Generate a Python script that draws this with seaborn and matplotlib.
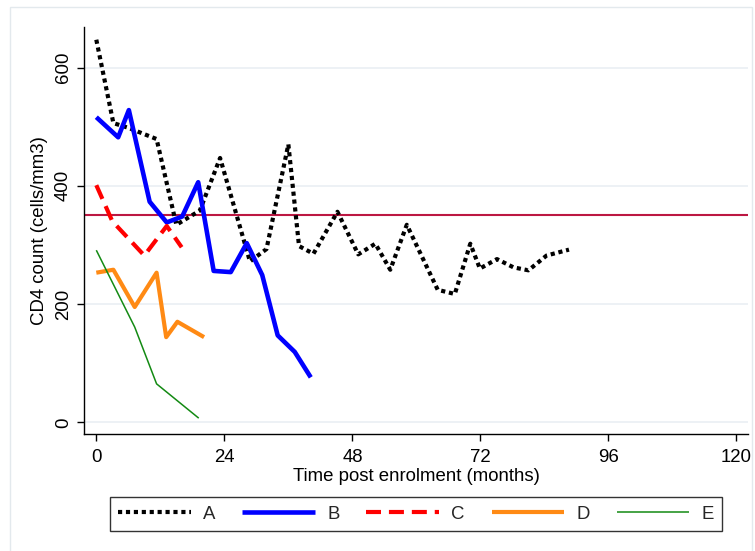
import numpy as np
import pandas as pd
import matplotlib
matplotlib.use("Agg")
import matplotlib.pyplot as plt
from matplotlib.patches import Rectangle
import seaborn as sns

# CD4 trajectories per patient (months since enrolment, cells/mm3)
months_a = [0, 3.2, 6, 11.3, 15, 19.4, 23.2, 28.8, 31.9, 36, 38, 40.7, 45.2, 49.1,
            52.3, 55.1, 58.2, 64, 67.2, 70.1, 71.9, 75.1, 78.2, 81, 84.4, 88.6]
cd4_a = [647, 506, 498, 479, 334, 358, 447, 272, 293, 470, 298, 285, 356, 284,
         302, 258, 334, 224, 217, 302, 260, 276, 262, 257, 282, 292]

months_b = [0, 4.1, 6.1, 10, 13.2, 16.1, 19.1, 22, 25.2, 28.2, 31.1, 34, 37.2, 40.2]
cd4_b = [516, 482, 528, 373, 338, 348, 406, 256, 254, 303, 249, 147, 119, 76]

months_c = [0, 3, 9, 13.2, 16]
cd4_c = [401, 340, 282, 332, 296]

months_d = [0, 3.2, 7.2, 11.3, 13.1, 15.2, 20.2]
cd4_d = [253, 258, 195, 253, 144, 170, 144]

months_e = [0, 7.2, 11.3, 19.2]
cd4_e = [291, 161, 65, 7]

series_names = ["A", "B", "C", "D", "E"]
threshold = 350
x_ticks = [0, 24, 48, 72, 96, 120]
y_ticks = [0, 200, 400, 600]
x_label = "Time post enrolment (months)"
y_label = "CD4 count (cells/mm3)"

sns.set_theme(style="ticks")
plt.rcParams["font.family"] = ["Liberation Sans", "DejaVu Sans"]

W, H = 755, 551
fig = plt.figure(figsize=(W / 100, H / 100), dpi=100)
fig.patch.set_facecolor("white")

# axes box in pixel coordinates
left, right, top, bottom = 84.3, 747.7, 26.7, 434.0
ax = fig.add_axes([left / W, 1 - bottom / H, (right - left) / W, (bottom - top) / H])

# faint outer frame of the graph region
fig.add_artist(Rectangle((10 / W, -0.1), (752 - 10) / W, 0.1 + (H - 7) / H,
                         transform=fig.transFigure, fill=False,
                         edgecolor="#e3e9ed", linewidth=1.0, zorder=0))

for yv in y_ticks:
    ax.axhline(yv, color="#e8eef2", linewidth=1.1, zorder=0)

styles = {
    "A": dict(color="black", linewidth=3.0, linestyle=(0, (1, 0.9))),
    "B": dict(color="#0000ff", linewidth=3.3, linestyle="-"),
    "C": dict(color="#ff0000", linewidth=3.0, linestyle=(0, (3.6, 1.9))),
    "D": dict(color="#ff8a14", linewidth=3.0, linestyle="-"),
    "E": dict(color="#138a13", linewidth=1.1, linestyle="-"),
}
data = {
    "A": (months_a, cd4_a),
    "B": (months_b, cd4_b),
    "C": (months_c, cd4_c),
    "D": (months_d, cd4_d),
    "E": (months_e, cd4_e),
}

handles = []
for name in series_names:
    mx, cy = data[name]
    df = pd.DataFrame({"month": mx, "cd4": cy})
    sns.lineplot(data=df, x="month", y="cd4", ax=ax, sort=False,
                 solid_capstyle="butt", dash_capstyle="butt", zorder=3,
                 **styles[name])
    handles.append(ax.lines[-1])

ax.axhline(threshold, color="#bc1742", linewidth=1.5, zorder=2)

ax.set_xlim(-2.25, 122.1)
ax.set_ylim(-19.8, 669)
ax.set_xticks(x_ticks)
ax.set_yticks(y_ticks)
ax.set_xticklabels([str(v) for v in x_ticks])
ax.set_yticklabels([str(v) for v in y_ticks], rotation=90, va="center")

ax.tick_params(axis="both", direction="out", length=5, width=1.0,
               color="black", labelsize=13.4, labelcolor="black")
ax.tick_params(axis="x", pad=6)
ax.tick_params(axis="y", pad=4)
ax.grid(False)
for side in ["top", "right"]:
    ax.spines[side].set_visible(False)
for side in ["left", "bottom"]:
    ax.spines[side].set_color("black")
    ax.spines[side].set_linewidth(1.0)

ax.set_xlabel(x_label, fontsize=13.4, color="black", labelpad=1)
ax.set_ylabel(y_label, fontsize=13.4, color="black", labelpad=5)

leg = fig.legend(handles, series_names, loc="center",
                 bbox_to_anchor=((left + right) / 2 / W, 1 - 514 / H),
                 ncol=5, frameon=True, fancybox=False, fontsize=13.4,
                 handlelength=3.9, handletextpad=0.65, columnspacing=1.45,
                 borderpad=0.45)
leg.get_frame().set_edgecolor("black")
leg.get_frame().set_linewidth(1.0)

fig.savefig("out.png", dpi=100)
